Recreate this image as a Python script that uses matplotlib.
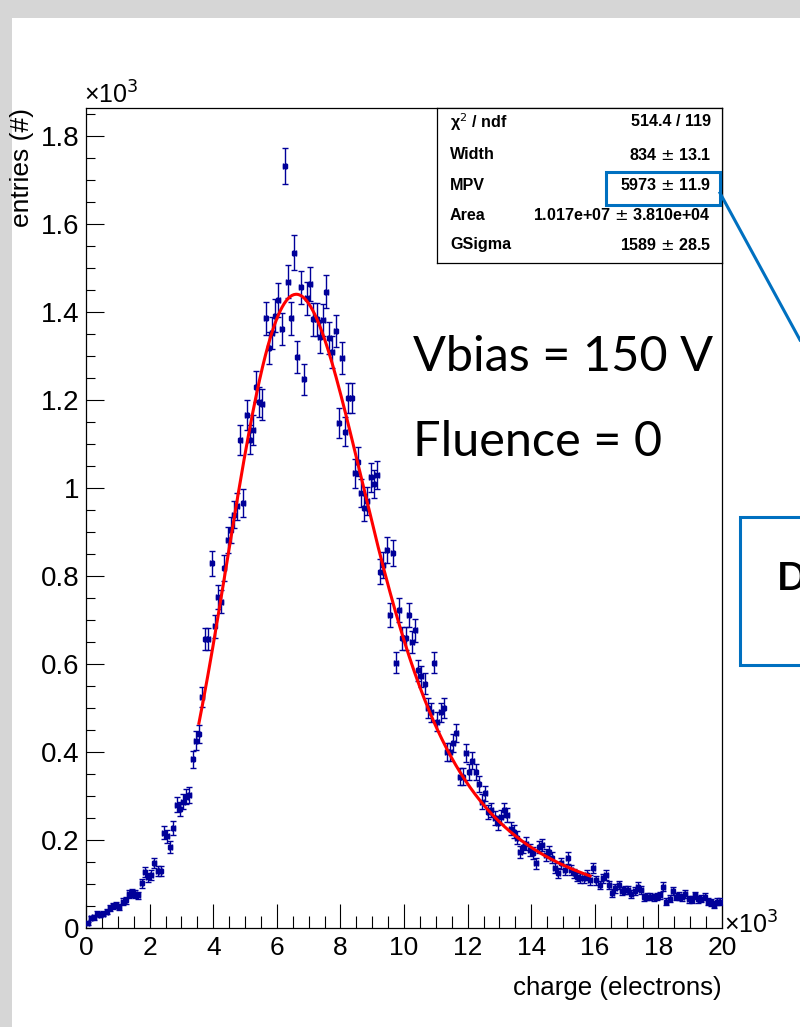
import numpy as np
import matplotlib
matplotlib.use("Agg")
import matplotlib.pyplot as plt
from matplotlib.patches import Rectangle
from matplotlib.lines import Line2D
from matplotlib.ticker import MultipleLocator

W, H = 800, 1027
plt.rcParams['font.family'] = ['Liberation Sans', 'DejaVu Sans']

# charge spectrum, 200 bins of 100 electrons from 0 to 20000
bin_width = 100
entries = [
    11, 23, 24, 32, 30, 32, 37, 45, 50, 52,
    48, 60, 63, 77, 79, 77, 74, 102, 128, 115,
    120, 148, 130, 130, 216, 208, 185, 227, 280, 270,
    287, 298, 302, 383, 426, 441, 525, 657, 657, 829,
    686, 753, 742, 818, 882, 905, 939, 958, 1109, 966,
    1166, 1110, 1132, 1230, 1196, 1190, 1386, 1318, 1352, 1392,
    1427, 1361, 1732, 1469, 1386, 1535, 1298, 1456, 1247, 1431,
    1464, 1383, 1383, 1344, 1382, 1446, 1340, 1310, 1357, 1148,
    1295, 1128, 1204, 1204, 1033, 1060, 988, 955, 970, 1024,
    1010, 1030, 810, 825, 859, 711, 852, 603, 723, 658,
    658, 711, 650, 677, 586, 572, 555, 500, 490, 603,
    469, 490, 500, 400, 400, 420, 443, 344, 344, 398,
    355, 380, 355, 327, 287, 306, 264, 268, 249, 238,
    253, 268, 257, 226, 219, 205, 173, 185, 192, 177,
    170, 147, 185, 189, 166, 173, 160, 136, 125, 147,
    132, 159, 132, 124, 117, 114, 113, 120, 109, 136,
    108, 98, 113, 120, 98, 80, 90, 98, 83, 86,
    86, 77, 83, 94, 86, 70, 71, 71, 70, 71,
    74, 94, 60, 67, 83, 71, 73, 70, 77, 65,
    64, 74, 65, 67, 71, 60, 58, 53, 60, 60,
]

# Landau (x) Gaussian fit result
fit_width, fit_width_err = 834, 13.1
fit_mpv, fit_mpv_err = 5973, 11.9
fit_area, fit_area_err = 1.017e7, 3.810e4
fit_gsigma, fit_gsigma_err = 1589, 28.5
chi2, ndf = 514.4, 119
fit_range = (3550, 15850)

x_ticks = [0, 2, 4, 6, 8, 10, 12, 14, 16, 18, 20]
y_ticks = [0, 0.2, 0.4, 0.6, 0.8, 1.0, 1.2, 1.4, 1.6, 1.8]
y_ticklabels = ['0', '0.2', '0.4', '0.6', '0.8', '1', '1.2', '1.4', '1.6', '1.8']


def landau(lam):
    # phi(l) = 1/pi * int_0^inf exp(-t ln t - l t) sin(pi t) dt
    t = np.linspace(1e-9, 60, 120001)
    a = -t * np.log(t)
    s = np.sin(np.pi * t)
    out = np.zeros_like(lam)
    for i, l in enumerate(lam):
        if l < -3:
            continue
        out[i] = np.trapezoid(np.exp(a - l * t) * s, t) / np.pi
    return out


def langaus(x):
    mpc = fit_mpv + 0.22278298 * fit_width
    step = 20.0
    xs = np.arange(-10000, 40000, step)
    lam_grid = np.arange(-3, 50, 0.05)
    phi = np.interp((xs - mpc) / fit_width, lam_grid, landau(lam_grid), left=0, right=0)
    k = np.arange(-8000, 8000 + step, step)
    g = np.exp(-0.5 * (k / fit_gsigma) ** 2) / (fit_gsigma * np.sqrt(2 * np.pi))
    conv = np.convolve(phi / fit_width, g, mode='same') * step
    return fit_area * np.interp(x, xs, conv)


counts = np.array(entries, dtype=float)
centers = (np.arange(len(counts)) + 0.5) * bin_width
errs = np.sqrt(counts)

fig = plt.figure(figsize=(W / 100, H / 100), dpi=100)
fig.patch.set_facecolor('white')


def fx(px):
    return px / W


def fy(py):
    return 1 - py / H


# grey slide border
fig.patches.append(Rectangle((0, fy(18)), 1, 18 / H, transform=fig.transFigure,
                             facecolor='#d6d6d6', edgecolor='none', zorder=0))
fig.patches.append(Rectangle((0, 0), 12 / W, 1, transform=fig.transFigure,
                             facecolor='#d6d6d6', edgecolor='none', zorder=0))

L, R, T, B = 86, 722, 108, 928
ax = fig.add_axes([fx(L), fy(B), (R - L) / W, (B - T) / H])

ax.errorbar(centers / 1000, counts / 1000, yerr=errs / 1000, xerr=bin_width / 2000,
            fmt='s', ms=2.8, color='#000099', ecolor='#000099', elinewidth=1.0,
            capsize=2.4, capthick=1.0, zorder=3)

xf = np.linspace(fit_range[0], fit_range[1], 400)
ax.plot(xf / 1000, langaus(xf) / 1000, color='red', lw=2.2, zorder=4)

for sp in ax.spines.values():
    sp.set_linewidth(0.9)
ax.set_xticks(x_ticks)
ax.set_xticklabels([str(v) for v in x_ticks])
ax.set_yticks(y_ticks)
ax.set_yticklabels(y_ticklabels)
ax.xaxis.set_minor_locator(MultipleLocator(0.5))
ax.yaxis.set_minor_locator(MultipleLocator(0.05))
ax.set_xlim(0, 20)
ax.set_ylim(0, 1.8636)
ax.tick_params(axis='x', which='major', direction='in', length=17.3, width=0.8,
               labelsize=19, pad=6)
ax.tick_params(axis='x', which='minor', direction='in', length=8.6, width=0.8)
ax.tick_params(axis='y', which='major', direction='in', length=13, width=0.8,
               labelsize=20, pad=5)
ax.tick_params(axis='y', which='minor', direction='in', length=6.5, width=0.8)

# axis titles and exponents
fig.text(fx(R), fy(995), 'charge (electrons)', fontsize=18.6, ha='right', va='baseline')
fig.text(fx(22), fy(T), 'entries (#)', fontsize=19, rotation=90, ha='center', va='top')
fig.text(fx(84), fy(104), '×10$^{3}$', fontsize=18, ha='left', va='baseline')
fig.text(fx(724), fy(934), '×10$^{3}$', fontsize=18, ha='left', va='baseline')

# run conditions
fig.text(fx(413), fy(371), 'Vbias = 150 V', fontsize=35, family='Lato', ha='left', va='baseline')
fig.text(fx(413), fy(456), 'Fluence = 0', fontsize=35, family='Lato', ha='left', va='baseline')

# fit statistics box
sx0, sx1, sy0, sy1 = 437, 722, 108, 263
sax = fig.add_axes([fx(sx0), fy(sy1), (sx1 - sx0) / W, (sy1 - sy0) / H])
sax.set_xticks([])
sax.set_yticks([])
sax.set_facecolor('white')
for sp in sax.spines.values():
    sp.set_linewidth(0.9)
sax.set_zorder(5)
rows = [
    ('χ$^{2}$ / ndf', '%.1f / %d' % (chi2, ndf)),
    ('Width', '%d $\\pm$ %.1f' % (fit_width, fit_width_err)),
    ('MPV', '%d $\\pm$ %.1f' % (fit_mpv, fit_mpv_err)),
    ('Area', '%.3e $\\pm$ %.3e' % (fit_area, fit_area_err)),
    ('GSigma', '%d $\\pm$ %.1f' % (fit_gsigma, fit_gsigma_err)),
]
row_y = [122, 155, 185, 215, 245]
for (name, val), py in zip(rows, row_y):
    fig.text(fx(450), fy(py), name, fontsize=11.6, fontweight='bold', ha='left',
             va='center', zorder=6)
    fig.text(fx(711), fy(py), val, fontsize=11.6, fontweight='bold', ha='right',
             va='center', zorder=6)

# callout highlight on MPV
blue = '#0070c0'
fig.patches.append(Rectangle((fx(606), fy(205)), (720 - 606) / W, (205 - 172) / H,
                             transform=fig.transFigure, facecolor='none',
                             edgecolor=blue, lw=2.2, zorder=7))
fig.lines.append(Line2D([fx(720), fx(800)], [fy(193), fy(340)], transform=fig.transFigure,
                        color=blue, lw=2.2, zorder=7))
fig.patches.append(Rectangle((fx(740), fy(665)), (830 - 740) / W, (665 - 517) / H,
                             transform=fig.transFigure, facecolor='white',
                             edgecolor=blue, lw=2.2, zorder=7, clip_on=False))
fig.text(fx(777), fy(590), 'D', fontsize=28, family='Lato', fontweight='bold',
         ha='left', va='baseline', zorder=8)

fig.savefig('out.png', dpi=100)
